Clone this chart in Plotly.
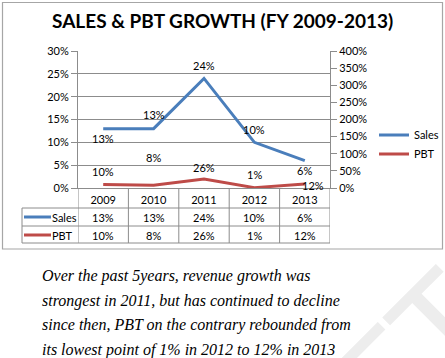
import plotly.graph_objects as go

years = ["2009", "2010", "2011", "2012", "2013"]
sales = [13, 13, 24, 10, 6]
pbt = [10, 8, 26, 1, 12]
left_ticks = [0, 5, 10, 15, 20, 25, 30]
right_ticks = [0, 50, 100, 150, 200, 250, 300, 350, 400]
caption = [
    "Over the past 5years, revenue growth was",
    "strongest in 2011, but has continued to decline",
    "since then, PBT on the contrary rebounded from",
    "its lowest point of 1% in 2012 to 12% in 2013",
]

W, H = 445, 358
BLUE = "#4A7EBB"
RED = "#BE4B48"
GRID = "#8C8C8C"
FONT = "Lato"


def px(x):
    return x / W


def py(y):
    return (H - y) / H


xs = list(range(len(years)))

fig = go.Figure()
fig.add_trace(go.Scatter(x=xs, y=sales, name="Sales", mode="lines",
                         line=dict(color=BLUE, width=3), yaxis="y"))
fig.add_trace(go.Scatter(x=xs, y=pbt, name="PBT", mode="lines",
                         line=dict(color=RED, width=3), yaxis="y2"))

lab_font = dict(family=FONT, size=11, color="#000")
ann = []
# faint watermark (mostly off the page)
ann.append(dict(x=px(315), y=py(448), xref="paper", yref="paper", text="DRAFT",
                textangle=-45, xanchor="center", yanchor="middle", showarrow=False,
                font=dict(family=FONT, size=135, color="#EDEDED")))
# data labels
sales_shift = [-10, 14, 13, 13, -10]
for i, v in enumerate(sales):
    ann.append(dict(x=i, y=v, xref="x", yref="y", text=f"{v}%", showarrow=False,
                    xanchor="center", yanchor="middle",
                    yshift=sales_shift[i], font=lab_font))
pbt_shift = [(0, 13), (0, 28), (0, 12), (0, 13), (8, -2)]
for i, v in enumerate(pbt):
    ann.append(dict(x=i, y=v, xref="x", yref="y2", text=f"{v}%", showarrow=False,
                    xanchor="center", yanchor="middle",
                    xshift=pbt_shift[i][0], yshift=pbt_shift[i][1], font=lab_font))

# table
row_y = [217, 235]
for i in xs:
    ann.append(dict(x=i, y=py(row_y[0]), xref="x", yref="paper", text=f"{sales[i]}%",
                    xanchor="center", yanchor="middle", showarrow=False, font=lab_font))
    ann.append(dict(x=i, y=py(row_y[1]), xref="x", yref="paper", text=f"{pbt[i]}%",
                    xanchor="center", yanchor="middle", showarrow=False, font=lab_font))
for name, yy in zip(["Sales", "PBT"], row_y):
    ann.append(dict(x=px(50), y=py(yy), xref="paper", yref="paper", text=name,
                    xanchor="left", yanchor="middle", showarrow=False, font=lab_font))

shapes = []
for yy, c in zip(row_y, [BLUE, RED]):
    shapes.append(dict(type="line", xref="paper", yref="paper", x0=px(24), x1=px(51),
                       y0=py(yy), y1=py(yy), line=dict(color=c, width=3)))
for k in range(len(years) + 1):
    shapes.append(dict(type="line", xref="x", yref="paper", x0=k - 0.5, x1=k - 0.5,
                       y0=py(188), y1=py(243), line=dict(color=GRID, width=1)))
for yy in [208, 226, 243]:
    shapes.append(dict(type="line", xref="paper", yref="paper", x0=px(22), x1=px(330),
                       y0=py(yy), y1=py(yy), line=dict(color=GRID, width=1)))
shapes.append(dict(type="line", xref="paper", yref="paper", x0=px(22), x1=px(22),
                   y0=py(208), y1=py(243), line=dict(color=GRID, width=1)))
# chart border
shapes.append(dict(type="rect", xref="paper", yref="paper", x0=px(2.5), x1=px(442.5),
                   y0=py(249), y1=py(2.5), line=dict(color="#A6A6A6", width=1.2)))

# title
ann.append(dict(x=px(222), y=py(20), xref="paper", yref="paper",
                xanchor="center", yanchor="middle",
                text="<b>SALES & PBT GROWTH (FY 2009-2013)</b>", showarrow=False,
                font=dict(family=FONT, size=19, color="#000")))

# caption
for j, line in enumerate(caption):
    ann.append(dict(x=px(40), y=py(276 + 24.5 * j), xref="paper", yref="paper",
                    text=f"<i>{line}</i>", xanchor="left", yanchor="middle", showarrow=False,
                    font=dict(family="Liberation Serif", size=16, color="#000")))

fig.update_layout(
    width=W, height=H,
    margin=dict(l=0, r=0, t=0, b=0, pad=0, autoexpand=False),
    paper_bgcolor="white", plot_bgcolor="white",
    showlegend=True,
    legend=dict(x=px(374), y=py(144.5), xanchor="left", yanchor="middle",
                font=lab_font, bgcolor="rgba(0,0,0,0)", itemwidth=30,
                tracegroupgap=0),
    xaxis=dict(domain=[px(78), px(330)], range=[-0.5, len(years) - 0.5],
               tickvals=xs, ticktext=years, showgrid=False, zeroline=False,
               showline=True, linecolor=GRID, ticks="", ticklabelstandoff=2,
               tickfont=lab_font, fixedrange=True, automargin=False),
    yaxis=dict(domain=[py(188), py(51)], range=[0, 30], tickvals=left_ticks,
               ticktext=[f"{v}%" for v in left_ticks],
               showgrid=True, gridcolor=GRID, gridwidth=1,
               zeroline=False, showline=True, linecolor=GRID, ticks="outside",
               ticklen=6, tickcolor=GRID, automargin=False, tickfont=lab_font),
    yaxis2=dict(overlaying="y", side="right", range=[0, 400], tickvals=right_ticks,
                ticktext=[f"{v}%" for v in right_ticks],
                showgrid=False, zeroline=False, showline=True,
                linecolor=GRID, ticks="outside", ticklen=6, tickcolor=GRID,
                anchor="x", automargin=False, tickfont=lab_font),
    annotations=ann, shapes=shapes,
)

fig.write_html("out.html", config={"displayModeBar": False},
               post_script="document.body.style.margin='0';")
